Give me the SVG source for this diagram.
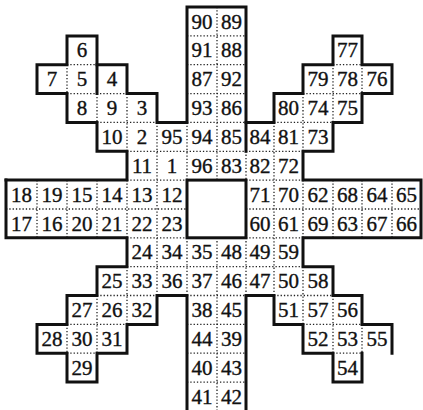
<svg xmlns="http://www.w3.org/2000/svg" width="423" height="410" viewBox="0 0 423 410">
<style>
.bg{fill:#ffffff}
.dot{fill:none;stroke:#222;stroke-width:1.3;stroke-dasharray:1.3 2}
.wall{fill:none;stroke:#111;stroke-width:3;stroke-linejoin:miter;stroke-linecap:square}
text{font-family:"Liberation Serif","Times New Roman",serif;font-size:21px;fill:#111;stroke:#111;stroke-width:0.35;text-anchor:middle}
</style>
<rect class="bg" x="0" y="0" width="423" height="410"/>
<g id="dotted-grid">
<path class="dot" d="M187,35.9H246 M67,64.7H97 M187,64.7H246 M333,64.7H362 M67,93.6H127 M187,93.6H246 M303,93.6H362 M97,122.4H157 M187,122.4H246 M274,122.4H333 M127,151.3H303 M127,180.1H187 M246,180.1H303 M6,209H187 M246,209H421 M127,237.8H187 M246,237.8H303 M127,266.7H303 M97,295.5H157 M187,295.5H246 M274,295.5H333 M67,324.4H127 M187,324.4H246 M303,324.4H362 M67,353.2H97 M187,353.2H246 M333,353.2H362 M187,382.1H246"/>
<path class="dot" d="M37,180.1V237.8 M67,64.7V93.6 M67,180.1V237.8 M67,324.4V353.2 M97,93.6V122.4 M97,180.1V237.8 M97,295.5V353.2 M127,93.6V151.3 M127,180.1V237.8 M127,266.7V324.4 M157,122.4V295.5 M187,122.4V180.1 M187,237.8V295.5 M217,7V180.1 M217,237.8V410.9 M246,151.3V180.1 M246,237.8V295.5 M274,122.4V295.5 M303,93.6V151.3 M303,180.1V237.8 M303,266.7V324.4 M333,64.7V122.4 M333,180.1V237.8 M333,295.5V353.2 M362,64.7V93.6 M362,180.1V237.8 M362,324.4V353.2 M392,180.1V237.8"/>
</g>
<g id="walls">
<path class="wall" d="M6,180.1H127V151.3H97V122.4H67V93.6H37V64.7H67V35.9H97V93.6"/>
<path class="wall" d="M97,64.7H127V93.6H157V122.4H187V7H246V151.3"/>
<path class="wall" d="M246,122.4H274V93.6H303V64.7H333V35.9H362V64.7H392V93.6H362V122.4H333V151.3H303V180.1H421V237.8H303V266.7H333V295.5H362V324.4H392V353.2"/>
<path class="wall" d="M362,353.2V382.1H333V353.2H303V324.4H274V295.5H246V410"/>
<path class="wall" d="M187,410V295.5H157V324.4H127V353.2H97V382.1H67V353.2H37V324.4H67V295.5H97V266.7H127V237.8H6V180.1"/>
<rect class="wall" x="187" y="180.1" width="59" height="57.7"/>
</g>
<g id="cells">
<g id="n90"><text x="202" y="28.5">90</text></g>
<g id="n89"><text x="231.5" y="28.5">89</text></g>
<g id="n6"><text x="82" y="57.4">6</text></g>
<g id="n91"><text x="202" y="57.4">91</text></g>
<g id="n88"><text x="231.5" y="57.4">88</text></g>
<g id="n77"><text x="347.5" y="57.4">77</text></g>
<g id="n7"><text x="52" y="86.2">7</text></g>
<g id="n5"><text x="82" y="86.2">5</text></g>
<g id="n4"><text x="112" y="86.2">4</text></g>
<g id="n87"><text x="202" y="86.2">87</text></g>
<g id="n92"><text x="231.5" y="86.2">92</text></g>
<g id="n79"><text x="318" y="86.2">79</text></g>
<g id="n78"><text x="347.5" y="86.2">78</text></g>
<g id="n76"><text x="377" y="86.2">76</text></g>
<g id="n8"><text x="82" y="115.1">8</text></g>
<g id="n9"><text x="112" y="115.1">9</text></g>
<g id="n3"><text x="142" y="115.1">3</text></g>
<g id="n93"><text x="202" y="115.1">93</text></g>
<g id="n86"><text x="231.5" y="115.1">86</text></g>
<g id="n80"><text x="288.5" y="115.1">80</text></g>
<g id="n74"><text x="318" y="115.1">74</text></g>
<g id="n75"><text x="347.5" y="115.1">75</text></g>
<g id="n10"><text x="112" y="143.9">10</text></g>
<g id="n2"><text x="142" y="143.9">2</text></g>
<g id="n95"><text x="172" y="143.9">95</text></g>
<g id="n94"><text x="202" y="143.9">94</text></g>
<g id="n85"><text x="231.5" y="143.9">85</text></g>
<g id="n84"><text x="260" y="143.9">84</text></g>
<g id="n81"><text x="288.5" y="143.9">81</text></g>
<g id="n73"><text x="318" y="143.9">73</text></g>
<g id="n11"><text x="142" y="172.8">11</text></g>
<g id="n1"><text x="172" y="172.8">1</text></g>
<g id="n96"><text x="202" y="172.8">96</text></g>
<g id="n83"><text x="231.5" y="172.8">83</text></g>
<g id="n82"><text x="260" y="172.8">82</text></g>
<g id="n72"><text x="288.5" y="172.8">72</text></g>
<g id="n18"><text x="21.5" y="201.6">18</text></g>
<g id="n19"><text x="52" y="201.6">19</text></g>
<g id="n15"><text x="82" y="201.6">15</text></g>
<g id="n14"><text x="112" y="201.6">14</text></g>
<g id="n13"><text x="142" y="201.6">13</text></g>
<g id="n12"><text x="172" y="201.6">12</text></g>
<g id="n71"><text x="260" y="201.6">71</text></g>
<g id="n70"><text x="288.5" y="201.6">70</text></g>
<g id="n62"><text x="318" y="201.6">62</text></g>
<g id="n68"><text x="347.5" y="201.6">68</text></g>
<g id="n64"><text x="377" y="201.6">64</text></g>
<g id="n65"><text x="406.5" y="201.6">65</text></g>
<g id="n17"><text x="21.5" y="230.5">17</text></g>
<g id="n16"><text x="52" y="230.5">16</text></g>
<g id="n20"><text x="82" y="230.5">20</text></g>
<g id="n21"><text x="112" y="230.5">21</text></g>
<g id="n22"><text x="142" y="230.5">22</text></g>
<g id="n23"><text x="172" y="230.5">23</text></g>
<g id="n60"><text x="260" y="230.5">60</text></g>
<g id="n61"><text x="288.5" y="230.5">61</text></g>
<g id="n69"><text x="318" y="230.5">69</text></g>
<g id="n63"><text x="347.5" y="230.5">63</text></g>
<g id="n67"><text x="377" y="230.5">67</text></g>
<g id="n66"><text x="406.5" y="230.5">66</text></g>
<g id="n24"><text x="142" y="259.3">24</text></g>
<g id="n34"><text x="172" y="259.3">34</text></g>
<g id="n35"><text x="202" y="259.3">35</text></g>
<g id="n48"><text x="231.5" y="259.3">48</text></g>
<g id="n49"><text x="260" y="259.3">49</text></g>
<g id="n59"><text x="288.5" y="259.3">59</text></g>
<g id="n25"><text x="112" y="288.2">25</text></g>
<g id="n33"><text x="142" y="288.2">33</text></g>
<g id="n36"><text x="172" y="288.2">36</text></g>
<g id="n37"><text x="202" y="288.2">37</text></g>
<g id="n46"><text x="231.5" y="288.2">46</text></g>
<g id="n47"><text x="260" y="288.2">47</text></g>
<g id="n50"><text x="288.5" y="288.2">50</text></g>
<g id="n58"><text x="318" y="288.2">58</text></g>
<g id="n27"><text x="82" y="317">27</text></g>
<g id="n26"><text x="112" y="317">26</text></g>
<g id="n32"><text x="142" y="317">32</text></g>
<g id="n38"><text x="202" y="317">38</text></g>
<g id="n45"><text x="231.5" y="317">45</text></g>
<g id="n51"><text x="288.5" y="317">51</text></g>
<g id="n57"><text x="318" y="317">57</text></g>
<g id="n56"><text x="347.5" y="317">56</text></g>
<g id="n28"><text x="52" y="345.9">28</text></g>
<g id="n30"><text x="82" y="345.9">30</text></g>
<g id="n31"><text x="112" y="345.9">31</text></g>
<g id="n44"><text x="202" y="345.9">44</text></g>
<g id="n39"><text x="231.5" y="345.9">39</text></g>
<g id="n52"><text x="318" y="345.9">52</text></g>
<g id="n53"><text x="347.5" y="345.9">53</text></g>
<g id="n55"><text x="377" y="345.9">55</text></g>
<g id="n29"><text x="82" y="374.7">29</text></g>
<g id="n40"><text x="202" y="374.7">40</text></g>
<g id="n43"><text x="231.5" y="374.7">43</text></g>
<g id="n54"><text x="347.5" y="374.7">54</text></g>
<g id="n41"><text x="202" y="403.6">41</text></g>
<g id="n42"><text x="231.5" y="403.6">42</text></g>
</g>
</svg>
